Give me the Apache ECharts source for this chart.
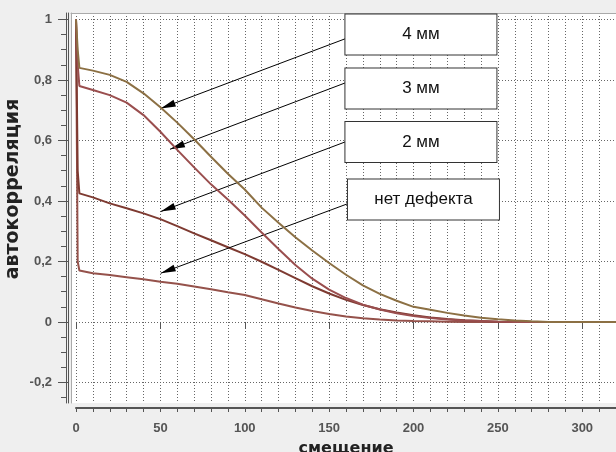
<!DOCTYPE html>
<html>
<head>
<meta charset="utf-8">
<script src="https://cdn.jsdelivr.net/npm/echarts@6/dist/echarts.min.js"></script>
<style>
html,body{margin:0;padding:0;background:#efefef;}
#chart{width:616px;height:452px;}
</style>
</head>
<body>
<div id="chart"></div>
<script>
// ---- data ----
const offsets = [0, 1, 2, 10, 20, 30, 40, 50, 60, 70, 80, 90, 100, 110, 120, 130, 140, 150, 160, 170, 180, 190, 200, 210, 220, 230, 240, 250, 260, 270, 280, 320];
const mm4  = [1, 0.9, 0.84, 0.831, 0.817, 0.794, 0.756, 0.71, 0.659, 0.604, 0.546, 0.49, 0.438, 0.378, 0.328, 0.28, 0.236, 0.195, 0.156, 0.121, 0.093, 0.07, 0.05, 0.04, 0.03, 0.021, 0.014, 0.009, 0.005, 0.002, 0, 0];
const mm3  = [1, 0.85, 0.78, 0.767, 0.75, 0.725, 0.684, 0.629, 0.569, 0.511, 0.455, 0.405, 0.352, 0.296, 0.241, 0.188, 0.143, 0.107, 0.079, 0.057, 0.041, 0.029, 0.02, 0.013, 0.008, 0.005, 0.003, 0.001, 0, 0, 0, 0];
const mm2  = [1, 0.5, 0.425, 0.412, 0.392, 0.376, 0.359, 0.34, 0.317, 0.293, 0.27, 0.247, 0.224, 0.199, 0.172, 0.145, 0.118, 0.094, 0.073, 0.056, 0.042, 0.031, 0.022, 0.015, 0.01, 0.006, 0.003, 0.001, 0, 0, 0, 0];
const none = [1, 0.2, 0.17, 0.161, 0.155, 0.148, 0.141, 0.133, 0.126, 0.117, 0.108, 0.098, 0.089, 0.075, 0.061, 0.048, 0.036, 0.026, 0.018, 0.012, 0.008, 0.005, 0.003, 0.002, 0.001, 0, 0, 0, 0, 0, 0, 0];

const seriesNames = ['4 мм', '3 мм', '2 мм', 'нет дефекта'];
const xTicks = [0, 50, 100, 150, 200, 250, 300];
const yTicks = [-0.2, 0, 0.2, 0.4, 0.6, 0.8, 1];
const yMinorTicks = [-0.25, -0.2, -0.15, -0.1, -0.05, 0, 0.05, 0.1, 0.15, 0.2, 0.25, 0.3, 0.35, 0.4, 0.45, 0.5, 0.55, 0.6, 0.65, 0.7, 0.75, 0.8, 0.85, 0.9, 0.95, 1];

// annotation boxes (centre in data coords) and arrows (tail -> tip in data coords)
const boxCenters = [[204.4, 0.950], [204.4, 0.772], [204.4, 0.595], [205.9, 0.405]];
const arrowTails = [[159.4, 0.936], [159.4, 0.790], [159.4, 0.595], [160.6, 0.390]];
const arrowTips  = [[50.2, 0.706], [55.7, 0.571], [50.2, 0.365], [50.2, 0.161]];

const colors = ['#8c7044', '#9a4e4e', '#7e3a31', '#95524b'];
const allY = [mm4, mm3, mm2, none];

const chart = echarts.init(document.getElementById('chart'), null, {renderer: 'canvas'});
const fontTick = {fontFamily: 'Liberation Sans', fontSize: 13, fontWeight: 'bold', color: '#555'};
const Y_MIN = -0.268, Y_MAX = 1.0215;
const gridDots = {type: [1, 2], color: '#666', width: 1};

const series = allY.map((ys, i) => ({
  name: seriesNames[i],
  type: 'line',
  xAxisIndex: 0, yAxisIndex: 0,
  data: offsets.map((x, k) => [x, ys[k]]),
  showSymbol: false,
  symbol: 'none',
  clip: false,
  lineStyle: {color: colors[i], width: 2},
  itemStyle: {color: colors[i]},
  z: 3 + (3 - i)
}));

series.push({
  type: 'line',
  xAxisIndex: 0, yAxisIndex: 0,
  data: [],
  z: 20,
  markLine: {
    silent: true,
    animation: false,
    symbol: ['none', 'path://M5,-16L5.01,-16L5,-16.01Z M5,0L10,16L0,16Z'],
    symbolSize: [7, 30],
    lineStyle: {color: '#000', width: 1, type: 'solid'},
    label: {show: false},
    data: arrowTails.map((t, i) => [{coord: t}, {coord: arrowTips[i]}])
  },
  markPoint: {
    silent: true,
    animation: false,
    symbol: 'circle',
    symbolSize: 0,
    itemStyle: {color: 'transparent'},
    label: {
      show: true, position: 'inside', formatter: p => p.name,
      color: '#111', fontSize: 17, fontFamily: 'Liberation Sans',
      width: 151, height: 40, lineHeight: 40, align: 'center', verticalAlign: 'middle',
      backgroundColor: '#fff', borderColor: '#333', borderWidth: 1
    },
    data: boxCenters.map((c, i) => ({name: seriesNames[i], coord: c}))
  }
});

const option = {
  backgroundColor: '#efefef',
  animation: false,
  grid: [
    {left: 76, right: 0, top: 13, bottom: 49, outerBoundsMode: 'none', containLabel: false},
    {left: 71, right: -2, top: 13, bottom: 49, outerBoundsMode: 'none', containLabel: false,
     show: true, backgroundColor: '#fff', borderWidth: 0}
  ],
  xAxis: [{
    gridIndex: 0,
    type: 'value', min: 0, max: 320, interval: 10, offset: 5, position: 'bottom',
    axisLine: {show: true, onZero: false, lineStyle: {color: '#555', width: 2}},
    axisTick: {show: true, length: 4, lineStyle: {color: '#555'}},
    axisLabel: Object.assign({formatter: v => xTicks.includes(v) ? String(v) : '', margin: 14}, fontTick),
    splitLine: {show: true, lineStyle: gridDots},
    name: 'смещение', nameLocation: 'middle', nameGap: 33, nameMoveOverlap: false,
    nameTextStyle: {fontFamily: 'DejaVu Sans', fontSize: 16, fontWeight: 'bold', color: '#222'}
  }, {
    gridIndex: 0,
    type: 'value', min: 0, max: 320, position: 'bottom', offset: 5,
    axisLine: {show: false},
    axisTick: {show: true, length: 7, customValues: xTicks, lineStyle: {color: '#555'}},
    axisLabel: {show: false},
    splitLine: {show: false}
  }, {
    gridIndex: 1,
    type: 'value', min: 0, max: 1, position: 'top',
    axisLine: {show: true, onZero: false, lineStyle: {color: '#aaa', width: 1}},
    axisTick: {show: false}, axisLabel: {show: false}, splitLine: {show: false}
  }],
  yAxis: [{
    gridIndex: 0,
    type: 'value', min: Y_MIN, max: Y_MAX, position: 'left', offset: 8,
    axisLine: {show: true, onZero: false, lineStyle: {color: '#555', width: 1}},
    axisTick: {show: true, length: 10, customValues: yTicks, lineStyle: {color: '#555'}},
    axisLabel: Object.assign({customValues: yTicks, formatter: v => String(v).replace('.', ','), margin: 16}, fontTick),
    splitLine: {show: true, lineStyle: gridDots},
    name: 'автокорреляция', nameLocation: 'middle', nameGap: 45, nameRotate: 90, nameMoveOverlap: false,
    nameTextStyle: {fontFamily: 'DejaVu Sans', fontSize: 19, fontWeight: 'bold', color: '#222', padding: [0, 0, 0, 38]}
  }, {
    gridIndex: 0,
    type: 'value', min: Y_MIN, max: Y_MAX, position: 'left', offset: 10,
    axisLine: {show: true, onZero: false, lineStyle: {color: '#555', width: 1}},
    axisTick: {show: true, length: 5, customValues: yMinorTicks, lineStyle: {color: '#555'}},
    axisLabel: {show: false},
    splitLine: {show: false}
  }, {
    gridIndex: 1,
    type: 'value', min: 0, max: 1, position: 'left',
    axisLine: {show: true, onZero: false, lineStyle: {color: '#aaa', width: 1}},
    axisTick: {show: false}, axisLabel: {show: false}, splitLine: {show: false}
  }],
  series: series
};
chart.setOption(option);
</script>
</body>
</html>
